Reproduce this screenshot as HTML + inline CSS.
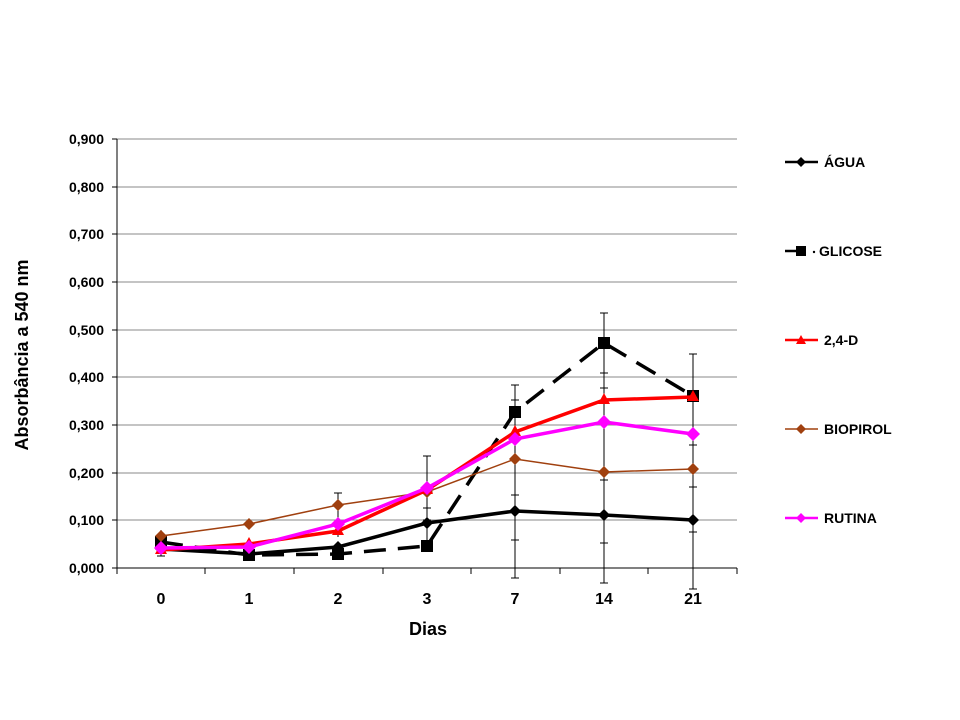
<!DOCTYPE html>
<html><head><meta charset="utf-8"><style>body{margin:0;background:#fff}svg{display:block}</style></head><body>
<svg width="960" height="720" xmlns="http://www.w3.org/2000/svg" font-family="Liberation Sans, Arial, sans-serif" font-weight="900">
<g stroke="#888" stroke-width="1">
<line x1="117" y1="139" x2="737" y2="139"/><line x1="117" y1="187" x2="737" y2="187"/><line x1="117" y1="234" x2="737" y2="234"/><line x1="117" y1="282" x2="737" y2="282"/><line x1="117" y1="330" x2="737" y2="330"/><line x1="117" y1="377" x2="737" y2="377"/><line x1="117" y1="425" x2="737" y2="425"/><line x1="117" y1="473" x2="737" y2="473"/><line x1="117" y1="520" x2="737" y2="520"/>
</g>
<g stroke="#000" stroke-width="1">
<line x1="117" y1="139" x2="117" y2="568"/><line x1="117" y1="568" x2="737" y2="568"/>
<line x1="112" y1="139" x2="117" y2="139"/><line x1="112" y1="187" x2="117" y2="187"/><line x1="112" y1="234" x2="117" y2="234"/><line x1="112" y1="282" x2="117" y2="282"/><line x1="112" y1="330" x2="117" y2="330"/><line x1="112" y1="377" x2="117" y2="377"/><line x1="112" y1="425" x2="117" y2="425"/><line x1="112" y1="473" x2="117" y2="473"/><line x1="112" y1="520" x2="117" y2="520"/><line x1="112" y1="568" x2="117" y2="568"/>
<line x1="117" y1="568" x2="117" y2="574"/><line x1="205" y1="568" x2="205" y2="574"/><line x1="294" y1="568" x2="294" y2="574"/><line x1="383" y1="568" x2="383" y2="574"/><line x1="471" y1="568" x2="471" y2="574"/><line x1="560" y1="568" x2="560" y2="574"/><line x1="648" y1="568" x2="648" y2="574"/><line x1="737" y1="568" x2="737" y2="574"/>
</g>
<g font-size="14" text-anchor="end">
<text x="104" y="144">0,900</text><text x="104" y="192">0,800</text><text x="104" y="239">0,700</text><text x="104" y="287">0,600</text><text x="104" y="335">0,500</text><text x="104" y="382">0,400</text><text x="104" y="430">0,300</text><text x="104" y="478">0,200</text><text x="104" y="525">0,100</text><text x="104" y="573">0,000</text>
</g>
<g font-size="16" text-anchor="middle">
<text x="161" y="604">0</text><text x="249" y="604">1</text><text x="338" y="604">2</text><text x="427" y="604">3</text><text x="515" y="604">7</text><text x="604" y="604">14</text><text x="693" y="604">21</text>
</g>
<text x="428" y="635" font-size="18" text-anchor="middle">Dias</text>
<text transform="translate(28,355) rotate(-90)" font-size="18" text-anchor="middle">Absorbância a 540 nm</text>
<g stroke="#000" stroke-width="1">
<line x1="161" y1="530" x2="161" y2="556"/><line x1="157" y1="556" x2="165" y2="556"/>
<line x1="338" y1="493" x2="338" y2="537"/><line x1="334" y1="493" x2="342" y2="493"/>
<line x1="427" y1="456" x2="427" y2="540"/><line x1="423" y1="456" x2="431" y2="456"/><line x1="423" y1="508" x2="431" y2="508"/><line x1="423" y1="520" x2="431" y2="520"/>
<line x1="515" y1="385" x2="515" y2="578"/><line x1="511" y1="385" x2="519" y2="385"/><line x1="511" y1="400" x2="519" y2="400"/><line x1="511" y1="495" x2="519" y2="495"/><line x1="511" y1="540" x2="519" y2="540"/><line x1="511" y1="578" x2="519" y2="578"/>
<line x1="604" y1="313" x2="604" y2="583"/><line x1="600" y1="313" x2="608" y2="313"/><line x1="600" y1="373" x2="608" y2="373"/><line x1="600" y1="388" x2="608" y2="388"/><line x1="600" y1="480" x2="608" y2="480"/><line x1="600" y1="543" x2="608" y2="543"/><line x1="600" y1="583" x2="608" y2="583"/>
<line x1="693" y1="354" x2="693" y2="589"/><line x1="689" y1="354" x2="697" y2="354"/><line x1="689" y1="394" x2="697" y2="394"/><line x1="689" y1="445" x2="697" y2="445"/><line x1="689" y1="487" x2="697" y2="487"/><line x1="689" y1="532" x2="697" y2="532"/><line x1="689" y1="589" x2="697" y2="589"/>
</g>
<polyline points="161,542 249,555 338,554 427,546 515,412 604,343 693,396" fill="none" stroke="#000" stroke-width="3.5" stroke-dasharray="22,12"/>
<g fill="#000"><rect x="155" y="536" width="12" height="12"/><rect x="243" y="549" width="12" height="12"/><rect x="332" y="548" width="12" height="12"/><rect x="421" y="540" width="12" height="12"/><rect x="509" y="406" width="12" height="12"/><rect x="598" y="337" width="12" height="12"/><rect x="687" y="390" width="12" height="12"/></g>
<polyline points="161,549 249,554 338,547 427,523 515,511 604,515 693,520" fill="none" stroke="#000" stroke-width="3.5"/>
<g fill="#000"><path d="M161 543l6 6-6 6-6-6z"/><path d="M249 548l6 6-6 6-6-6z"/><path d="M338 541l6 6-6 6-6-6z"/><path d="M427 517l6 6-6 6-6-6z"/><path d="M515 505l6 6-6 6-6-6z"/><path d="M604 509l6 6-6 6-6-6z"/><path d="M693 514l6 6-6 6-6-6z"/></g>
<polyline points="161,536 249,524 338,505 427,492 515,459 604,472 693,469" fill="none" stroke="#a0400f" stroke-width="1.5"/>
<g fill="#a0400f"><path d="M161 530l6 6-6 6-6-6z"/><path d="M249 518l6 6-6 6-6-6z"/><path d="M338 499l6 6-6 6-6-6z"/><path d="M427 486l6 6-6 6-6-6z"/><path d="M515 453l6 6-6 6-6-6z"/><path d="M604 466l6 6-6 6-6-6z"/><path d="M693 463l6 6-6 6-6-6z"/></g>
<polyline points="161,550 249,544 338,531 427,490 515,432 604,400 693,397" fill="none" stroke="#f00" stroke-width="3.5"/>
<g fill="#f00"><path d="M161 543l6 11h-12z"/><path d="M249 537l6 11h-12z"/><path d="M338 524l6 11h-12z"/><path d="M427 483l6 11h-12z"/><path d="M515 425l6 11h-12z"/><path d="M604 393l6 11h-12z"/><path d="M693 390l6 11h-12z"/></g>
<polyline points="161,548 249,547 338,524 427,488 515,439 604,422 693,434" fill="none" stroke="#f0f" stroke-width="3.5"/>
<g fill="#f0f"><path d="M161 541l7 7-7 7-7-7z"/><path d="M249 540l7 7-7 7-7-7z"/><path d="M338 517l7 7-7 7-7-7z"/><path d="M427 481l7 7-7 7-7-7z"/><path d="M515 432l7 7-7 7-7-7z"/><path d="M604 415l7 7-7 7-7-7z"/><path d="M693 427l7 7-7 7-7-7z"/></g>
<g font-size="14">
<line x1="785" y1="162" x2="818" y2="162" stroke="#000" stroke-width="2.5"/><path d="M801 157l5 5-5 5-5-5z" fill="#000"/><text x="824" y="167">ÁGUA</text>
<line x1="785" y1="251" x2="800" y2="251" stroke="#000" stroke-width="2.5"/><rect x="796" y="246" width="10" height="10" fill="#000"/><circle cx="814" cy="252" r="1.2" fill="#000"/><text x="819" y="256">GLICOSE</text>
<line x1="785" y1="340" x2="818" y2="340" stroke="#f00" stroke-width="2.5"/><path d="M801 335l5 9h-10z" fill="#f00"/><text x="824" y="345">2,4-D</text>
<line x1="785" y1="429" x2="818" y2="429" stroke="#a0400f" stroke-width="1.5"/><path d="M801 424l5 5-5 5-5-5z" fill="#a0400f"/><text x="824" y="434">BIOPIROL</text>
<line x1="785" y1="518" x2="818" y2="518" stroke="#f0f" stroke-width="2.5"/><path d="M801 513l5 5-5 5-5-5z" fill="#f0f"/><text x="824" y="523">RUTINA</text>
</g>
</svg>
</body></html>
